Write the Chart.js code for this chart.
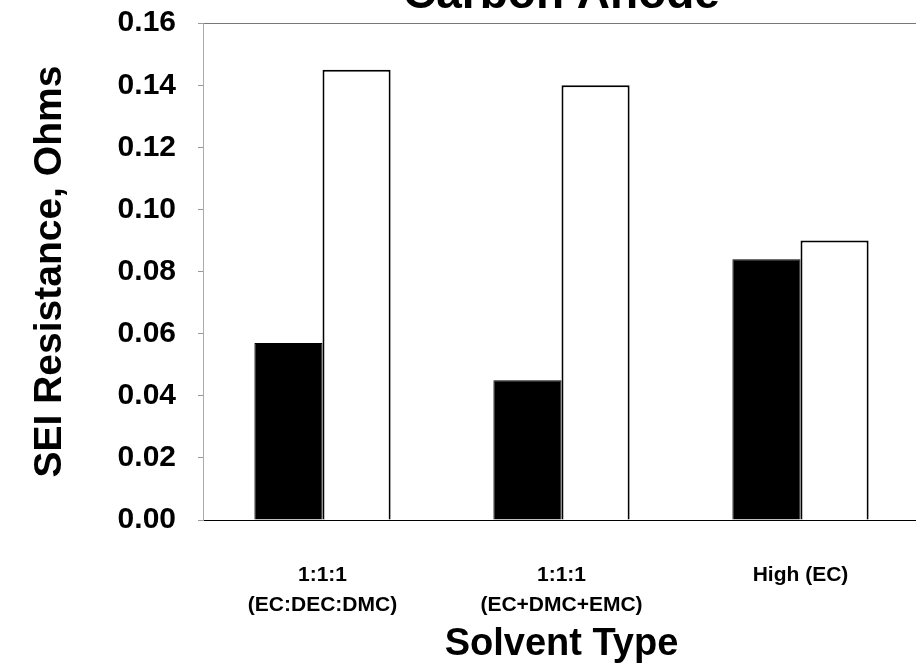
<!DOCTYPE html>
<html>
<head>
<meta charset="utf-8">
<script src="https://cdn.jsdelivr.net/npm/chart.js@4.4.1/dist/chart.umd.min.js"></script>
<style>
  html, body { margin: 0; padding: 0; background: #fff; overflow: hidden; }
  #wrap { position: absolute; left: 0; top: -32px; width: 922px; height: 702px; }
</style>
</head>
<body>
<div id="wrap"><canvas id="seiChart"></canvas></div>
<script>
// data
const solventTypes = [["1:1:1", "(EC:DEC:DMC)"], ["1:1:1", "(EC+DMC+EMC)"], "High (EC)"];
const blackSeries = [0.057, 0.045, 0.084];
const whiteSeries = [0.145, 0.140, 0.090];
const yTicks = [0, 0.02, 0.04, 0.06, 0.08, 0.10, 0.12, 0.14, 0.16];

const FONT = "'Liberation Sans', Arial, sans-serif";

const seiChart = new Chart(document.getElementById("seiChart"), {
    type: "bar",
    data: {
        labels: solventTypes,
        datasets: [
            {
                label: "Series 1",
                data: blackSeries,
                backgroundColor: "#000",
                borderColor: "#000",
                borderWidth: 1,
                xAxisID: "x",
            },
            {
                label: "Series 2",
                data: whiteSeries,
                backgroundColor: "#fff",
                borderColor: "#000",
                borderWidth: 2,
                xAxisID: "x",
            },
        ],
    },
    options: {
        responsive: true,
        maintainAspectRatio: false,
        animation: false,
        layout: { padding: { left: 0, right: 2, top: 0, bottom: 0 } },
        datasets: { bar: { categoryPercentage: 0.57, barPercentage: 1.0 } },
        plugins: {
            legend: { display: false },
            tooltip: { enabled: false },
            title: {
                display: true,
                fullSize: false, // centre over the plot area, not the whole canvas
                text: "Carbon Anode",
                color: "#000",
                font: { family: FONT, size: 46, weight: "bold" },
                padding: { top: 0, bottom: 0 },
            },
        },
        scales: {
            x: {
                position: "bottom",
                grid: { display: false },
                border: { display: true, color: "#000", width: 1 },
                ticks: {
                    color: "#000",
                    padding: 33,
                    maxRotation: 0,
                    font: { family: FONT, size: 21, weight: "bold", lineHeight: 1.4 },
                },
                title: {
                    display: true,
                    text: "Solvent Type",
                    color: "#000",
                    font: { family: FONT, size: 38, weight: "bold" },
                    padding: { top: 0, bottom: 3 },
                },
                afterFit: (scale) => { scale.height = 150; },
            },
            xTop: {
                position: "top",
                type: "category",
                labels: solventTypes,
                grid: { display: false },
                ticks: { display: false },
                border: { display: true, color: "#777", width: 1 },
                afterFit: (scale) => { scale.height = 0; },
            },
            y: {
                min: 0,
                max: 0.16,
                afterBuildTicks: (scale) => { scale.ticks = yTicks.map(v => ({ value: v })); },
                grid: { drawOnChartArea: false, drawTicks: true, tickLength: 5, color: "#999" },
                border: { display: true, color: "#aaa", width: 1, dash: [3, 3] },
                ticks: {
                    color: "#000",
                    padding: 22,
                    font: { family: FONT, size: 30, weight: "bold" },
                    callback: (v) => Number(v).toFixed(2),
                },
                title: {
                    display: true,
                    text: "SEI Resistance, Ohms",
                    color: "#000",
                    font: { family: FONT, size: 39, weight: "bold" },
                    padding: { top: 27, bottom: 0 },
                },
                afterFit: (scale) => { scale.width = 203; },
            },
        },
    },
});
</script>
</body>
</html>
